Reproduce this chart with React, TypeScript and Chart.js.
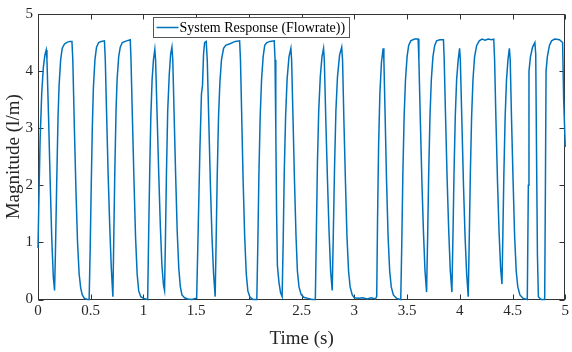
import React, { useEffect, useRef } from 'react';
import { Chart, registerables } from 'chart.js';

Chart.register(...registerables);

// ---- data ----
const timeSeconds: number[] = [
  0, 0.01, 0.02, 0.035, 0.05, 0.065, 0.078, 0.085, 0.1, 0.115, 0.13, 0.145, 0.157,
  0.165, 0.178, 0.19, 0.2, 0.215, 0.23, 0.25, 0.27, 0.3, 0.322, 0.33, 0.345, 0.36, 0.375, 0.39, 0.405, 0.42, 0.44, 0.47, 0.485,
  0.495, 0.505, 0.515, 0.525, 0.54, 0.555, 0.575, 0.6, 0.63, 0.638, 0.65, 0.665, 0.68, 0.695, 0.71,
  0.718, 0.728, 0.74, 0.75, 0.765, 0.78, 0.8, 0.84, 0.875, 0.882, 0.895, 0.91, 0.925, 0.94, 0.955, 0.975, 1.0, 1.04,
  1.05, 1.06, 1.07, 1.082, 1.095, 1.108, 1.115, 1.13, 1.145, 1.16, 1.175, 1.19, 1.2,
  1.208, 1.218, 1.23, 1.245, 1.258, 1.27, 1.278, 1.29, 1.305, 1.32, 1.335, 1.35, 1.365, 1.39, 1.42, 1.46, 1.5,
  1.505, 1.52, 1.535, 1.55, 1.56, 1.57, 1.58, 1.595, 1.605, 1.62, 1.635, 1.65, 1.665, 1.68,
  1.69, 1.7, 1.712, 1.725, 1.74, 1.76, 1.78, 1.82, 1.87, 1.912, 1.92, 1.932, 1.945, 1.96, 1.975, 1.99, 2.01, 2.04, 2.075,
  2.085, 2.095, 2.107, 2.12, 2.135, 2.15, 2.17, 2.2, 2.24, 2.248, 2.255, 2.262, 2.27, 2.285, 2.3, 2.315,
  2.325, 2.335, 2.348, 2.362, 2.38, 2.398, 2.405, 2.418, 2.432, 2.447, 2.46, 2.475, 2.495, 2.52, 2.56, 2.6, 2.63,
  2.64, 2.65, 2.662, 2.677, 2.693, 2.708, 2.715, 2.73, 2.745, 2.76, 2.775, 2.79,
  2.8, 2.812, 2.825, 2.84, 2.86, 2.88, 2.888, 2.9, 2.915, 2.93, 2.945, 2.96, 2.98, 3.0, 3.04, 3.08, 3.12, 3.16, 3.2,
  3.212, 3.22, 3.23, 3.242, 3.257, 3.273, 3.28, 3.292, 3.305, 3.32, 3.335, 3.35, 3.37, 3.4, 3.44,
  3.45, 3.46, 3.472, 3.485, 3.5, 3.515, 3.535, 3.57, 3.605, 3.612, 3.625, 3.64, 3.655, 3.67, 3.685,
  3.695, 3.705, 3.717, 3.73, 3.745, 3.762, 3.78, 3.81, 3.845, 3.852, 3.865, 3.88, 3.895, 3.91, 3.925,
  3.935, 3.945, 3.957, 3.97, 3.985, 3.998, 4.005, 4.02, 4.035, 4.05, 4.065, 4.08,
  4.09, 4.1, 4.112, 4.125, 4.14, 4.16, 4.185, 4.21, 4.24, 4.27, 4.3, 4.322, 4.33, 4.342, 4.357, 4.372, 4.387, 4.4,
  4.408, 4.418, 4.43, 4.443, 4.457, 4.47, 4.478, 4.49, 4.505, 4.52, 4.535, 4.55, 4.57, 4.6, 4.64,
  4.65, 4.656, 4.67, 4.69, 4.712, 4.72, 4.728, 4.736, 4.745, 4.77, 4.805,
  4.812, 4.818, 4.83, 4.85, 4.87, 4.9, 4.945, 4.975, 4.985, 5.0,
];

const flowrate: number[] = [
  0.9, 1.9, 2.8, 3.6, 4.05, 4.28, 4.37, 4.2, 3.2, 2.1, 1.1, 0.4, 0.16,
  0.8, 2.1, 3.2, 3.75, 4.2, 4.4, 4.47, 4.5, 4.52, 4.52, 4.2, 3.0, 1.9, 1.0, 0.45, 0.2, 0.08, 0.02, 0, 0,
  0.9, 2.0, 3.0, 3.7, 4.2, 4.42, 4.5, 4.52, 4.53, 4.2, 3.3, 2.2, 1.3, 0.55, 0.05,
  1.0, 2.2, 3.3, 3.85, 4.25, 4.42, 4.5, 4.53, 4.55, 4.2, 3.2, 2.1, 1.1, 0.45, 0.15, 0.05, 0.02, 0,
  1.2, 2.3, 3.2, 3.85, 4.2, 4.38, 4.2, 3.2, 2.2, 1.3, 0.6, 0.25, 0.16,
  1.0, 2.2, 3.3, 3.95, 4.3, 4.42, 4.2, 3.3, 2.2, 1.2, 0.55, 0.22, 0.08, 0.03, 0.01, 0, 0.02,
  0.05, 1.3, 2.6, 3.6, 3.75, 4.3, 4.5, 4.52, 4.2, 3.1, 2.0, 1.1, 0.45, 0.05,
  1.1, 2.2, 3.2, 3.8, 4.2, 4.4, 4.45, 4.48, 4.52, 4.53, 4.2, 3.2, 2.1, 1.1, 0.45, 0.15, 0.04, 0, 0,
  1.0, 2.2, 3.2, 3.85, 4.25, 4.45, 4.5, 4.52, 4.53, 4.2, 3.0, 1.6, 0.6, 0.3, 0.12, 0.05,
  1.0, 2.2, 3.2, 3.85, 4.25, 4.4, 4.2, 3.2, 2.1, 1.1, 0.5, 0.22, 0.09, 0.04, 0.02, 0, 0,
  1.2, 2.4, 3.3, 3.9, 4.25, 4.4, 4.2, 3.1, 2.1, 1.2, 0.5, 0.16,
  1.1, 2.3, 3.3, 3.9, 4.28, 4.42, 4.2, 3.2, 2.1, 1.1, 0.5, 0.22, 0.08, 0.03, 0.02, 0.03, 0.01, 0.03, 0.01,
  0.05, 1.4, 2.7, 3.6, 4.15, 4.4, 4.2, 3.2, 2.1, 1.1, 0.5, 0.22, 0.08, 0.02, 0,
  1.0, 2.2, 3.2, 3.85, 4.25, 4.45, 4.53, 4.56, 4.56, 4.2, 3.2, 2.1, 1.2, 0.5, 0.13,
  1.1, 2.2, 3.2, 3.85, 4.25, 4.45, 4.53, 4.55, 4.55, 4.2, 3.2, 2.1, 1.2, 0.5, 0.13,
  1.1, 2.2, 3.2, 3.85, 4.2, 4.4, 4.2, 3.1, 2.0, 1.1, 0.45, 0.05,
  1.1, 2.2, 3.2, 3.85, 4.25, 4.45, 4.53, 4.56, 4.54, 4.56, 4.55, 4.56, 4.2, 3.2, 2.1, 1.2, 0.55, 0.27,
  1.1, 2.2, 3.2, 3.85, 4.2, 4.4, 4.2, 3.2, 2.1, 1.1, 0.5, 0.22, 0.08, 0.02, 0,
  2.0, 4.0, 4.25, 4.42, 4.5, 4.3, 2.5, 0.8, 0.05, 0, 0,
  2.0, 4.0, 4.25, 4.45, 4.53, 4.56, 4.55, 4.5, 3.5, 2.67,
];

const xTickValues: number[] = [0, 0.5, 1, 1.5, 2, 2.5, 3, 3.5, 4, 4.5, 5];
const xTickLabels: string[] = ['0', '0.5', '1', '1.5', '2', '2.5', '3', '3.5', '4', '4.5', '5'];
const yTickValues: number[] = [0, 1, 2, 3, 4, 5];
const yTickLabels: string[] = ['0', '1', '2', '3', '4', '5'];

const seriesLabel = 'System Response (Flowrate))';
const xTitle = 'Time (s)';
const yTitle = 'Magnitude (l/m)';

// ---- styles ----
const FONT = "'Liberation Serif', 'Times New Roman', serif";
const LINE_COLOR = '#0072BD';
const AXIS_COLOR = '#333333';
const TEXT_COLOR = '#262626';

const matlabFrame = {
  id: 'matlabFrame',
  beforeDatasetsDraw(chart: any) {
    const { ctx, chartArea: a, scales } = chart;
    const xs = scales.x;
    const ys = scales.y;
    const L = Math.round(a.left) + 0.5;
    const R = Math.round(a.right) - 0.5;
    const T = Math.round(a.top) + 0.5;
    const B = Math.round(a.bottom) - 0.5;
    ctx.save();
    ctx.strokeStyle = AXIS_COLOR;
    ctx.lineWidth = 1;
    ctx.strokeRect(L, T, R - L, B - T);
    ctx.beginPath();
    xs.ticks.forEach((t: any) => {
      const px = Math.round(xs.getPixelForValue(t.value)) + 0.5;
      ctx.moveTo(px, B);
      ctx.lineTo(px, B - 5);
      ctx.moveTo(px, T);
      ctx.lineTo(px, T + 5);
    });
    ys.ticks.forEach((t: any) => {
      const py = Math.round(ys.getPixelForValue(t.value)) + 0.5;
      ctx.moveTo(L, py);
      ctx.lineTo(L + 5, py);
      ctx.moveTo(R, py);
      ctx.lineTo(R - 5, py);
    });
    ctx.stroke();
    ctx.restore();
  },
  afterDraw(chart: any) {
    const { ctx, chartArea: a } = chart;
    const ds = chart.data.datasets[0];
    ctx.save();
    ctx.font = `14px ${FONT}`;
    const tw = ctx.measureText(ds.label).width;
    const bx = Math.round(a.left + 115) + 0.5;
    const by = Math.round(a.top + 3) + 0.5;
    const bw = Math.round(tw + 30);
    const bh = 20;
    ctx.fillStyle = '#ffffff';
    ctx.fillRect(bx, by, bw, bh);
    ctx.strokeStyle = '#555555';
    ctx.lineWidth = 1;
    ctx.strokeRect(bx, by, bw, bh);
    ctx.strokeStyle = ds.borderColor;
    ctx.lineWidth = 1.5;
    ctx.beginPath();
    ctx.moveTo(bx + 3, by + 10);
    ctx.lineTo(bx + 25, by + 10);
    ctx.stroke();
    ctx.fillStyle = '#000000';
    ctx.textBaseline = 'middle';
    ctx.textAlign = 'left';
    ctx.fillText(ds.label, bx + 26, by + 10.5);
    ctx.restore();
  },
};

export default function App() {
  const canvasRef = useRef<HTMLCanvasElement | null>(null);

  useEffect(() => {
    const canvas = canvasRef.current;
    if (!canvas) return;
    const points = timeSeconds.map((t, i) => ({ x: t, y: flowrate[i] }));
    const chart = new Chart(canvas, {
      type: 'line',
      data: {
        datasets: [
          {
            label: seriesLabel,
            data: points,
            borderColor: LINE_COLOR,
            backgroundColor: LINE_COLOR,
            borderWidth: 1.5,
            pointRadius: 0,
            tension: 0,
            fill: false,
            clip: false as any,
          },
        ],
      },
      options: {
        animation: false,
        responsive: false,
        devicePixelRatio: 1,
        layout: { padding: { left: 0, right: 5, top: 10, bottom: 0 } },
        plugins: {
          legend: { display: false },
          tooltip: { enabled: false },
        },
        scales: {
          x: {
            type: 'linear',
            min: 0,
            max: 5,
            afterBuildTicks: (s: any) => {
              s.ticks = xTickValues.map((v) => ({ value: v }));
            },
            afterFit: (s: any) => {
              s.height = 52.5;
            },
            ticks: {
              autoSkip: false,
              maxRotation: 0,
              padding: 3,
              color: TEXT_COLOR,
              font: { family: FONT, size: 15 },
              callback: (v: any) => xTickLabels[xTickValues.indexOf(Number(v))],
            },
            grid: { display: false, drawTicks: false },
            border: { display: false },
            title: {
              display: true,
              text: xTitle,
              color: TEXT_COLOR,
              font: { family: FONT, size: 19 },
              padding: { top: 0, bottom: 2 },
            },
          },
          y: {
            type: 'linear',
            min: 0,
            max: 5,
            afterBuildTicks: (s: any) => {
              s.ticks = yTickValues.map((v) => ({ value: v }));
            },
            afterFit: (s: any) => {
              s.width = 38;
            },
            ticks: {
              padding: 5,
              color: TEXT_COLOR,
              font: { family: FONT, size: 15 },
              callback: (v: any) => yTickLabels[yTickValues.indexOf(Number(v))],
            },
            grid: { display: false, drawTicks: false },
            border: { display: false },
            title: {
              display: true,
              text: yTitle,
              color: TEXT_COLOR,
              font: { family: FONT, size: 19 },
              padding: { top: 3, bottom: 0 },
            },
          },
        },
      },
      plugins: [matlabFrame],
    });
    return () => chart.destroy();
  }, []);

  return (
    <div style={{ position: 'fixed', left: 0, top: 0, width: 572, height: 352, background: '#ffffff' }}>
      <canvas ref={canvasRef} width={572} height={352} style={{ display: 'block' }} />
    </div>
  );
}
